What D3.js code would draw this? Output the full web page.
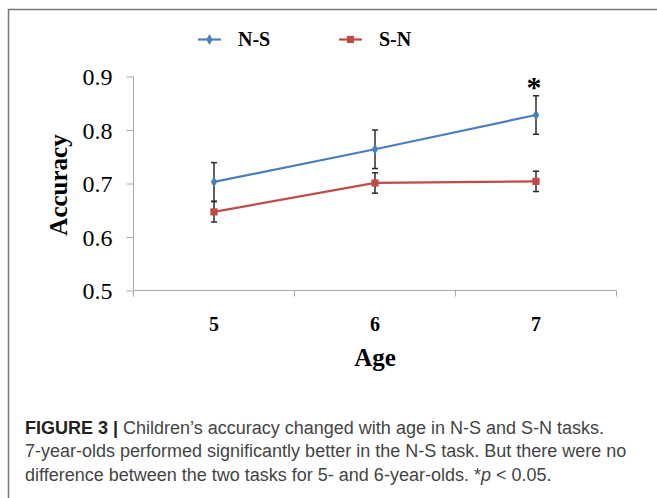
<!DOCTYPE html>
<html>
<head>
<meta charset="utf-8">
<script src="https://cdn.jsdelivr.net/npm/d3@7"></script>
<style>
  body { margin: 0; background: #fff; }
  svg { display: block; }
</style>
</head>
<body>
<div id="chart"></div>
<script>
// data
var ages = ["5", "6", "7"];
var seriesNames = ["N-S", "S-N"];
var nsMean = [0.703, 0.764, 0.828];
var nsErr = [0.036, 0.036, 0.036];
var snMean = [0.647, 0.701, 0.704];
var snErr = [0.019, 0.019, 0.019];
var yTicks = [0.5, 0.6, 0.7, 0.8, 0.9];
var sigAges = ["7"];
var captionLines = [
  [{t: "FIGURE 3 | ", b: true}, {t: "Children\u2019s accuracy changed with age in N-S and S-N tasks."}],
  [{t: "7-year-olds performed significantly better in the N-S task. But there were no"}],
  [{t: "difference between the two tasks for 5- and 6-year-olds. *"}, {t: "p", i: true}, {t: " < 0.05."}]
];

var width = 657, height = 498;
var serif = "'Liberation Serif', 'Times New Roman', serif";
var sans = "'Liberation Sans', Arial, sans-serif";
var blue = "#4a7ebb", red = "#be4b48", axisGray = "#a9a9a9";

var svg = d3.select("#chart").append("svg")
  .attr("width", width)
  .attr("height", height);

// outer figure frame (top + left only visible)
svg.append("path")
  .attr("d", "M8.5,498V9.5H657")
  .attr("fill", "none")
  .attr("stroke", "#777")
  .attr("stroke-width", 1.5);

var x = d3.scaleBand().domain(ages).range([133.5, 616.5]);
var y = d3.scaleLinear().domain([0.5, 0.9]).range([290.5, 76.5]);

var g = svg.append("g");

// y axis
var yAxis = g.append("g").attr("transform", "translate(133.5,0)")
  .call(d3.axisLeft(y).tickValues(yTicks).tickSize(7).tickPadding(14)
    .tickFormat(d3.format(".1f")));
yAxis.select(".domain").attr("d", "M0," + y(0.9) + "V" + (y(0.5) + 6));
yAxis.selectAll("line").attr("stroke", axisGray);
yAxis.select(".domain").attr("stroke", axisGray);
yAxis.selectAll("text")
  .attr("font-family", serif).attr("font-size", 24).attr("fill", "#000")
  .attr("dy", "0.34em");

// x axis, ticks at category boundaries
var xAxis = g.append("g").attr("transform", "translate(0," + y(0.5) + ")");
xAxis.append("line")
  .attr("x1", x.range()[0]).attr("x2", x.range()[1])
  .attr("stroke", axisGray);
xAxis.selectAll(".bound")
  .data(ages.map(function(d) { return x(d); }).concat([x.range()[1]]))
  .enter().append("line")
  .attr("class", "bound")
  .attr("x1", function(d) { return d; }).attr("x2", function(d) { return d; })
  .attr("y1", 0).attr("y2", 6)
  .attr("stroke", axisGray);
xAxis.selectAll(".lbl")
  .data(ages).enter().append("text")
  .attr("x", function(d) { return x(d) + x.bandwidth() / 2; })
  .attr("y", 40)
  .attr("text-anchor", "middle")
  .attr("font-family", serif).attr("font-weight", "bold").attr("font-size", 20)
  .text(function(d) { return d; });

// axis titles
g.append("text")
  .attr("transform", "translate(67,185) rotate(-90)")
  .attr("text-anchor", "middle")
  .attr("font-family", serif).attr("font-weight", "bold").attr("font-size", 25)
  .text("Accuracy");
g.append("text")
  .attr("x", 375).attr("y", 366)
  .attr("text-anchor", "middle")
  .attr("font-family", serif).attr("font-weight", "bold").attr("font-size", 25)
  .text("Age");

var cx = function(d, i) { return x(ages[i]) + x.bandwidth() / 2; };

var series = [
  {name: seriesNames[0], mean: nsMean, err: nsErr, color: blue, shape: d3.symbolDiamond, size: 34},
  {name: seriesNames[1], mean: snMean, err: snErr, color: red, shape: d3.symbolSquare, size: 52}
];

var line = d3.line()
  .x(cx)
  .y(function(d) { return y(d); });

series.forEach(function(s) {
  g.append("path")
    .datum(s.mean)
    .attr("fill", "none")
    .attr("stroke", s.color)
    .attr("stroke-width", 2.2)
    .attr("d", line);
});

// error bars
series.forEach(function(s) {
  var eb = g.selectAll(null).data(s.mean).enter().append("g")
    .attr("stroke", "#2b2b2b").attr("stroke-width", 1.5);
  eb.append("line")
    .attr("x1", cx).attr("x2", cx)
    .attr("y1", function(d, i) { return y(d + s.err[i]); })
    .attr("y2", function(d, i) { return y(d - s.err[i]); });
  eb.append("line")
    .attr("x1", function(d, i) { return cx(d, i) - 3; })
    .attr("x2", function(d, i) { return cx(d, i) + 3; })
    .attr("y1", function(d, i) { return y(d + s.err[i]); })
    .attr("y2", function(d, i) { return y(d + s.err[i]); });
  eb.append("line")
    .attr("x1", function(d, i) { return cx(d, i) - 3; })
    .attr("x2", function(d, i) { return cx(d, i) + 3; })
    .attr("y1", function(d, i) { return y(d - s.err[i]); })
    .attr("y2", function(d, i) { return y(d - s.err[i]); });
});

// markers
series.forEach(function(s) {
  g.selectAll(null).data(s.mean).enter().append("path")
    .attr("transform", function(d, i) { return "translate(" + cx(d, i) + "," + y(d) + ")"; })
    .attr("d", d3.symbol().type(s.shape).size(s.size))
    .attr("fill", s.color);
});

// significance star
sigAges.forEach(function(a) {
  var i = ages.indexOf(a);
  g.append("text")
    .attr("x", cx(null, i) - 2)
    .attr("y", y(nsMean[i] + nsErr[i]) + 1)
    .attr("text-anchor", "middle")
    .attr("font-family", serif).attr("font-weight", "bold").attr("font-size", 30)
    .text("*");
});

// legend
var legendX = [198, 339];
series.forEach(function(s, k) {
  var lg = svg.append("g").attr("transform", "translate(" + legendX[k] + ",39.5)");
  lg.append("line").attr("x1", 0).attr("x2", 23)
    .attr("stroke", s.color).attr("stroke-width", 2.2);
  lg.append("path")
    .attr("transform", "translate(11.5,0)")
    .attr("d", d3.symbol().type(s.shape).size(s.size))
    .attr("fill", s.color);
  lg.append("text")
    .attr("x", 40).attr("y", 6.5)
    .attr("font-family", serif).attr("font-weight", "bold").attr("font-size", 20)
    .text(s.name);
});

// caption
var cap = svg.append("text")
  .attr("font-family", sans).attr("font-size", 18).attr("fill", "#444");
captionLines.forEach(function(parts, li) {
  var row = cap.append("tspan").attr("x", 25).attr("y", 434 + li * 23.3);
  parts.forEach(function(p, pi) {
    var t = pi === 0 ? row : cap.append("tspan");
    t.text(p.t);
    if (p.b) t.attr("font-weight", "bold").attr("fill", "#222");
    if (p.i) t.attr("font-style", "italic");
  });
});
</script>
</body>
</html>
